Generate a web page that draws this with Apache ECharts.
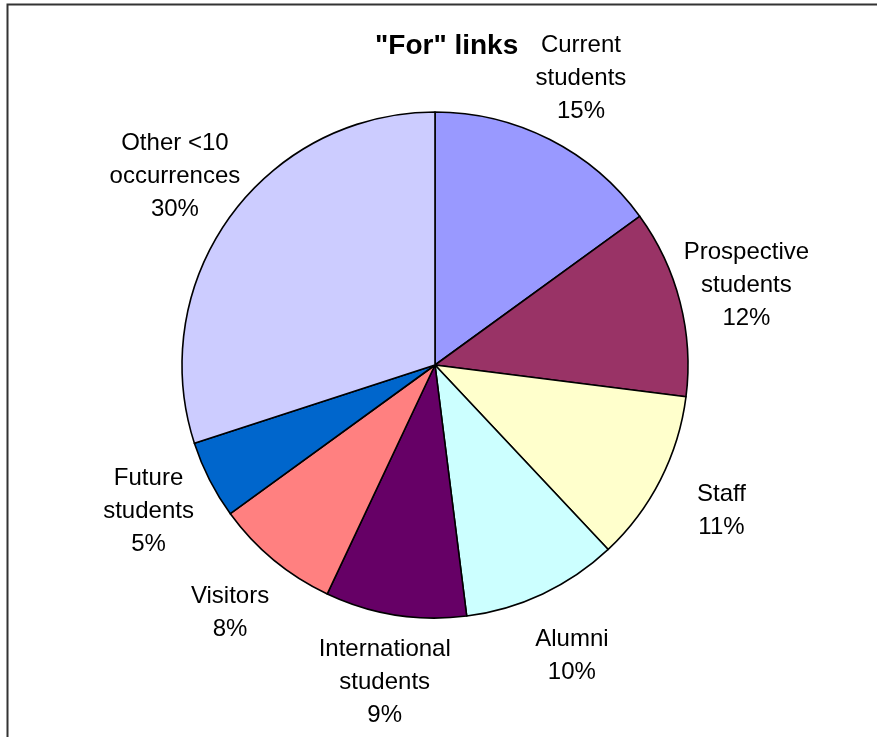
<!DOCTYPE html>
<html>
<head>
<meta charset="utf-8">
<script src="https://cdn.jsdelivr.net/npm/echarts@6/dist/echarts.min.js"></script>
<style>
  html, body { margin: 0; padding: 0; background: #fff; }
  #chart { width: 877px; height: 737px; }
</style>
</head>
<body>
<div id="chart"></div>
<script>
// Audience groups named in "For" links, clockwise from 12 o'clock
const categories = [
  'Current\nstudents',
  'Prospective\nstudents',
  'Staff',
  'Alumni',
  'International\nstudents',
  'Visitors',
  'Future\nstudents',
  'Other <10\noccurrences'
];
// Share of links, percent
const shares = [15, 12, 11, 10, 9, 8, 5, 30];
// Slice fills
const sliceColors = ['#9999FF', '#993366', '#FFFFCC', '#CCFFFF', '#660066', '#FF8080', '#0066CC', '#CCCCFF'];

const FONT = '"Liberation Sans", Arial, Helvetica, sans-serif';
const CENTER = [435, 365];
const RADIUS = 253;

const pieData = categories.map((name, i) => ({
  name: name,
  value: shares[i],
  itemStyle: { color: sliceColors[i] }
}));

// A transparent ring around the pie carries the centred labels
const labelData = categories.map((name, i) => ({ name: name, value: shares[i] }));

const chart = echarts.init(document.getElementById('chart'), null, { renderer: 'canvas' });
chart.setOption({
  backgroundColor: '#ffffff',
  animation: false,
  title: {
    text: '"For" links',
    left: 375,
    top: 32,
    padding: 0,
    textStyle: { fontFamily: FONT, fontSize: 28, fontWeight: 'bold', color: '#000' }
  },
  graphic: [{
    type: 'polyline',
    shape: { points: [[7.5, 737], [7.5, 4.5], [877, 4.5]] },
    style: { stroke: '#333333', lineWidth: 2, fill: null },
    silent: true
  }],
  series: [
    {
      type: 'pie',
      center: CENTER,
      radius: RADIUS,
      startAngle: 90,
      clockwise: true,
      silent: true,
      data: pieData,
      itemStyle: { borderColor: '#000', borderWidth: 1.6 },
      label: { show: false },
      labelLine: { show: false },
      emphasis: { disabled: true }
    },
    {
      type: 'pie',
      center: CENTER,
      radius: [RADIUS, 384],
      startAngle: 90,
      clockwise: true,
      silent: true,
      percentPrecision: 0,
      data: labelData,
      itemStyle: { color: 'rgba(0,0,0,0)', borderWidth: 0 },
      label: {
        show: true,
        position: 'inside',
        formatter: '{b}\n{d}%',
        fontFamily: FONT,
        fontSize: 24,
        lineHeight: 33,
        color: '#000',
        align: 'center'
      },
      labelLine: { show: false },
      emphasis: { disabled: true }
    }
  ]
});
</script>
</body>
</html>
